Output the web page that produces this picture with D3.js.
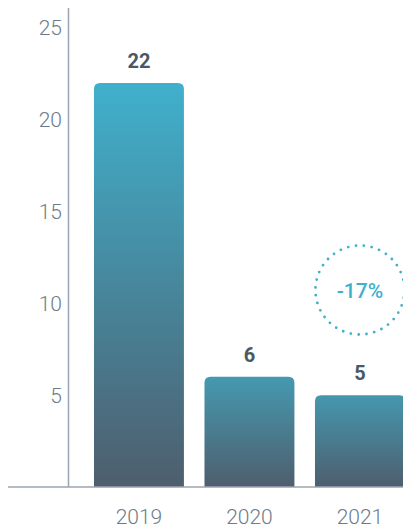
<!DOCTYPE html>
<html lang="en">
<head>
  <meta charset="UTF-8">
  <title>Bar chart 2019-2021</title>
  <script src="https://d3js.org/d3.v7.min.js"></script>
  <style>
    body { margin: 0; background: #fff; font-family: Roboto, sans-serif; }
    svg { display: block; }
    .tick-label { font-weight: 300; font-size: 21px; fill: #6d7b88; }
    .value-label { font-weight: 700; font-size: 20px; fill: #4a5866; }
    .axis-line { stroke: #9ba5af; stroke-width: 1.5; }
  </style>
</head>
<body>
  <svg width="403" height="529"></svg>

  <script>
    // data
    const years = ["2019", "2020", "2021"];
    const values = [22, 6, 5];
    const yTicks = [5, 10, 15, 20, 25];
    const changeLabel = "-17%";
    // top colour of each bar's gradient, bottom is shared
    const barTopColors = ["#40b0cc", "#4599b0", "#4597ae"];

    const svg = d3.select("svg");
    const baseY = 487, axisX = 68.5;

    const x = d3.scaleBand()
      .domain(years)
      .range([83.7, 415.2])
      .paddingInner(0.186)
      .paddingOuter(0.093);

    const y = d3.scaleLinear().domain([0, 25]).range([baseY, 28]);

    const defs = svg.append("defs");
    years.forEach((yr, i) => {
      const grad = defs.append("linearGradient")
        .attr("id", "grad" + i)
        .attr("x1", 0).attr("y1", 0).attr("x2", 0).attr("y2", 1);
      grad.append("stop").attr("offset", "0%").attr("stop-color", barTopColors[i]);
      grad.append("stop").attr("offset", "100%").attr("stop-color", "#4e5e6d");
    });

    // bars with rounded top corners
    const r = 6;
    function barPath(x0, y0, w, h) {
      return `M${x0},${y0 + h} V${y0 + r} Q${x0},${y0} ${x0 + r},${y0} H${x0 + w - r} Q${x0 + w},${y0} ${x0 + w},${y0 + r} V${y0 + h} Z`;
    }

    svg.selectAll(".bar")
      .data(values)
      .enter()
      .append("path")
      .attr("class", "bar")
      .attr("fill", (d, i) => `url(#grad${i})`)
      .attr("d", (d, i) => barPath(x(years[i]), y(d), x.bandwidth(), baseY - y(d)));

    // axes
    svg.append("line").attr("class", "axis-line")
      .attr("x1", axisX).attr("x2", axisX).attr("y1", 8).attr("y2", baseY);
    svg.append("line").attr("class", "axis-line")
      .attr("x1", 8).attr("x2", 403).attr("y1", baseY).attr("y2", baseY);

    svg.selectAll(".ytick")
      .data(yTicks)
      .enter()
      .append("text")
      .attr("class", "tick-label")
      .attr("x", 62)
      .attr("y", d => y(d))
      .attr("dy", "0.35em")
      .attr("text-anchor", "end")
      .text(d => d);

    svg.selectAll(".xtick")
      .data(years)
      .enter()
      .append("text")
      .attr("class", "tick-label")
      .attr("x", d => x(d) + x.bandwidth() / 2)
      .attr("y", 524)
      .attr("text-anchor", "middle")
      .text(d => d);

    svg.selectAll(".value-label")
      .data(values)
      .enter()
      .append("text")
      .attr("class", "value-label")
      .attr("x", (d, i) => x(years[i]) + x.bandwidth() / 2)
      .attr("y", d => y(d) - 15)
      .attr("text-anchor", "middle")
      .text(d => d);

    // change badge
    const cx = x(years[2]) + x.bandwidth() / 2, cy = 290;
    svg.append("circle")
      .attr("cx", cx).attr("cy", cy).attr("r", 44.5)
      .attr("fill", "none")
      .attr("stroke", "#3fb0cc")
      .attr("stroke-width", 2.8)
      .attr("stroke-linecap", "round")
      .attr("stroke-dasharray", "0 7.9");
    svg.append("text")
      .attr("x", cx).attr("y", cy + 8)
      .attr("text-anchor", "middle")
      .attr("font-size", 21)
      .attr("font-weight", 500)
      .attr("fill", "#3fb0cc")
      .text(changeLabel);
  </script>
</body>
</html>
